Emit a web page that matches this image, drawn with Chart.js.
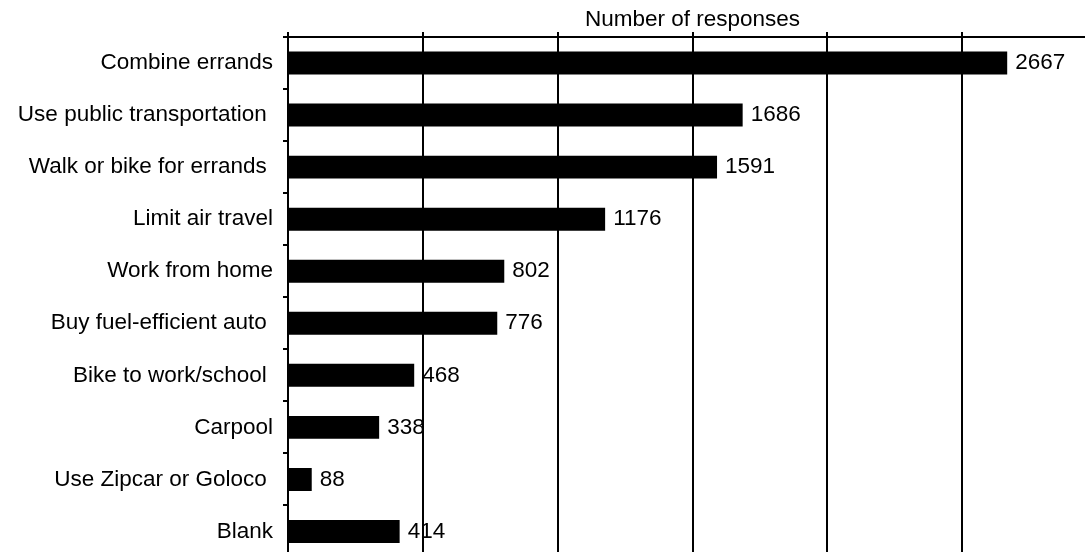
<!DOCTYPE html>
<html>
<head>
  <meta charset="utf-8">
  <title>Number of responses</title>
  <script src="https://cdn.jsdelivr.net/npm/chart.js"></script>
  <style>
    html, body { margin: 0; padding: 0; background: #fff; overflow: hidden; }
    canvas { display: block; }
  </style>
</head>
<body>
  <canvas id="barChart" width="1097" height="581"></canvas>
<script>
    // data
    const categories = [
        "Combine errands",
        "Use public transportation ",
        "Walk or bike for errands ",
        "Limit air travel",
        "Work from home",
        "Buy fuel-efficient auto ",
        "Bike to work/school ",
        "Carpool",
        "Use Zipcar or Goloco ",
        "Blank"
    ];
    const responses = [2667, 1686, 1591, 1176, 802, 776, 468, 338, 88, 414];
    const axisTitle = "Number of responses";

    const fontFamily = '"Liberation Sans", Arial, sans-serif';
    const fontSize = 22.5;

    // value labels next to the end of every bar
    const valueLabels = {
        id: 'valueLabels',
        afterDatasetsDraw(chart) {
            const ctx = chart.ctx;
            const meta = chart.getDatasetMeta(0);
            ctx.save();
            ctx.fillStyle = '#000';
            ctx.font = fontSize + 'px ' + fontFamily;
            ctx.textAlign = 'left';
            ctx.textBaseline = 'middle';
            meta.data.forEach((bar, i) => {
                ctx.fillText(String(responses[i]), bar.x + 8, bar.y);
            });
            ctx.restore();
        }
    };

    window.onload = () => {
        new Chart(document.getElementById('barChart'), {
            type: 'bar',
            data: {
                labels: categories,
                datasets: [{
                    data: responses,
                    backgroundColor: '#000',
                    borderWidth: 0,
                    barPercentage: 0.44,
                    categoryPercentage: 1
                }]
            },
            options: {
                indexAxis: 'y',
                responsive: false,
                animation: false,
                layout: { padding: 0 },
                plugins: {
                    legend: { display: false },
                    tooltip: { enabled: false }
                },
                scales: {
                    x: {
                        position: 'top',
                        min: 0,
                        max: 3000,
                        ticks: { stepSize: 500, display: false },
                        grid: { color: '#000', lineWidth: 2, tickLength: 5 },
                        border: { color: '#000', width: 2 },
                        title: {
                            display: true,
                            text: axisTitle,
                            color: '#000',
                            font: { family: fontFamily, size: fontSize, lineHeight: 1 },
                            padding: { top: 9, bottom: 0.5 }
                        }
                    },
                    y: {
                        ticks: {
                            color: '#000',
                            font: { family: fontFamily, size: fontSize },
                            padding: 10
                        },
                        grid: {
                            drawOnChartArea: false,
                            color: '#000',
                            lineWidth: 2,
                            tickLength: 5,
                            offset: true
                        },
                        border: { color: '#000', width: 2 },
                        afterFit: (scale) => { scale.width = 288; }
                    }
                }
            },
            plugins: [valueLabels]
        });
    };
</script>
</body>
</html>
